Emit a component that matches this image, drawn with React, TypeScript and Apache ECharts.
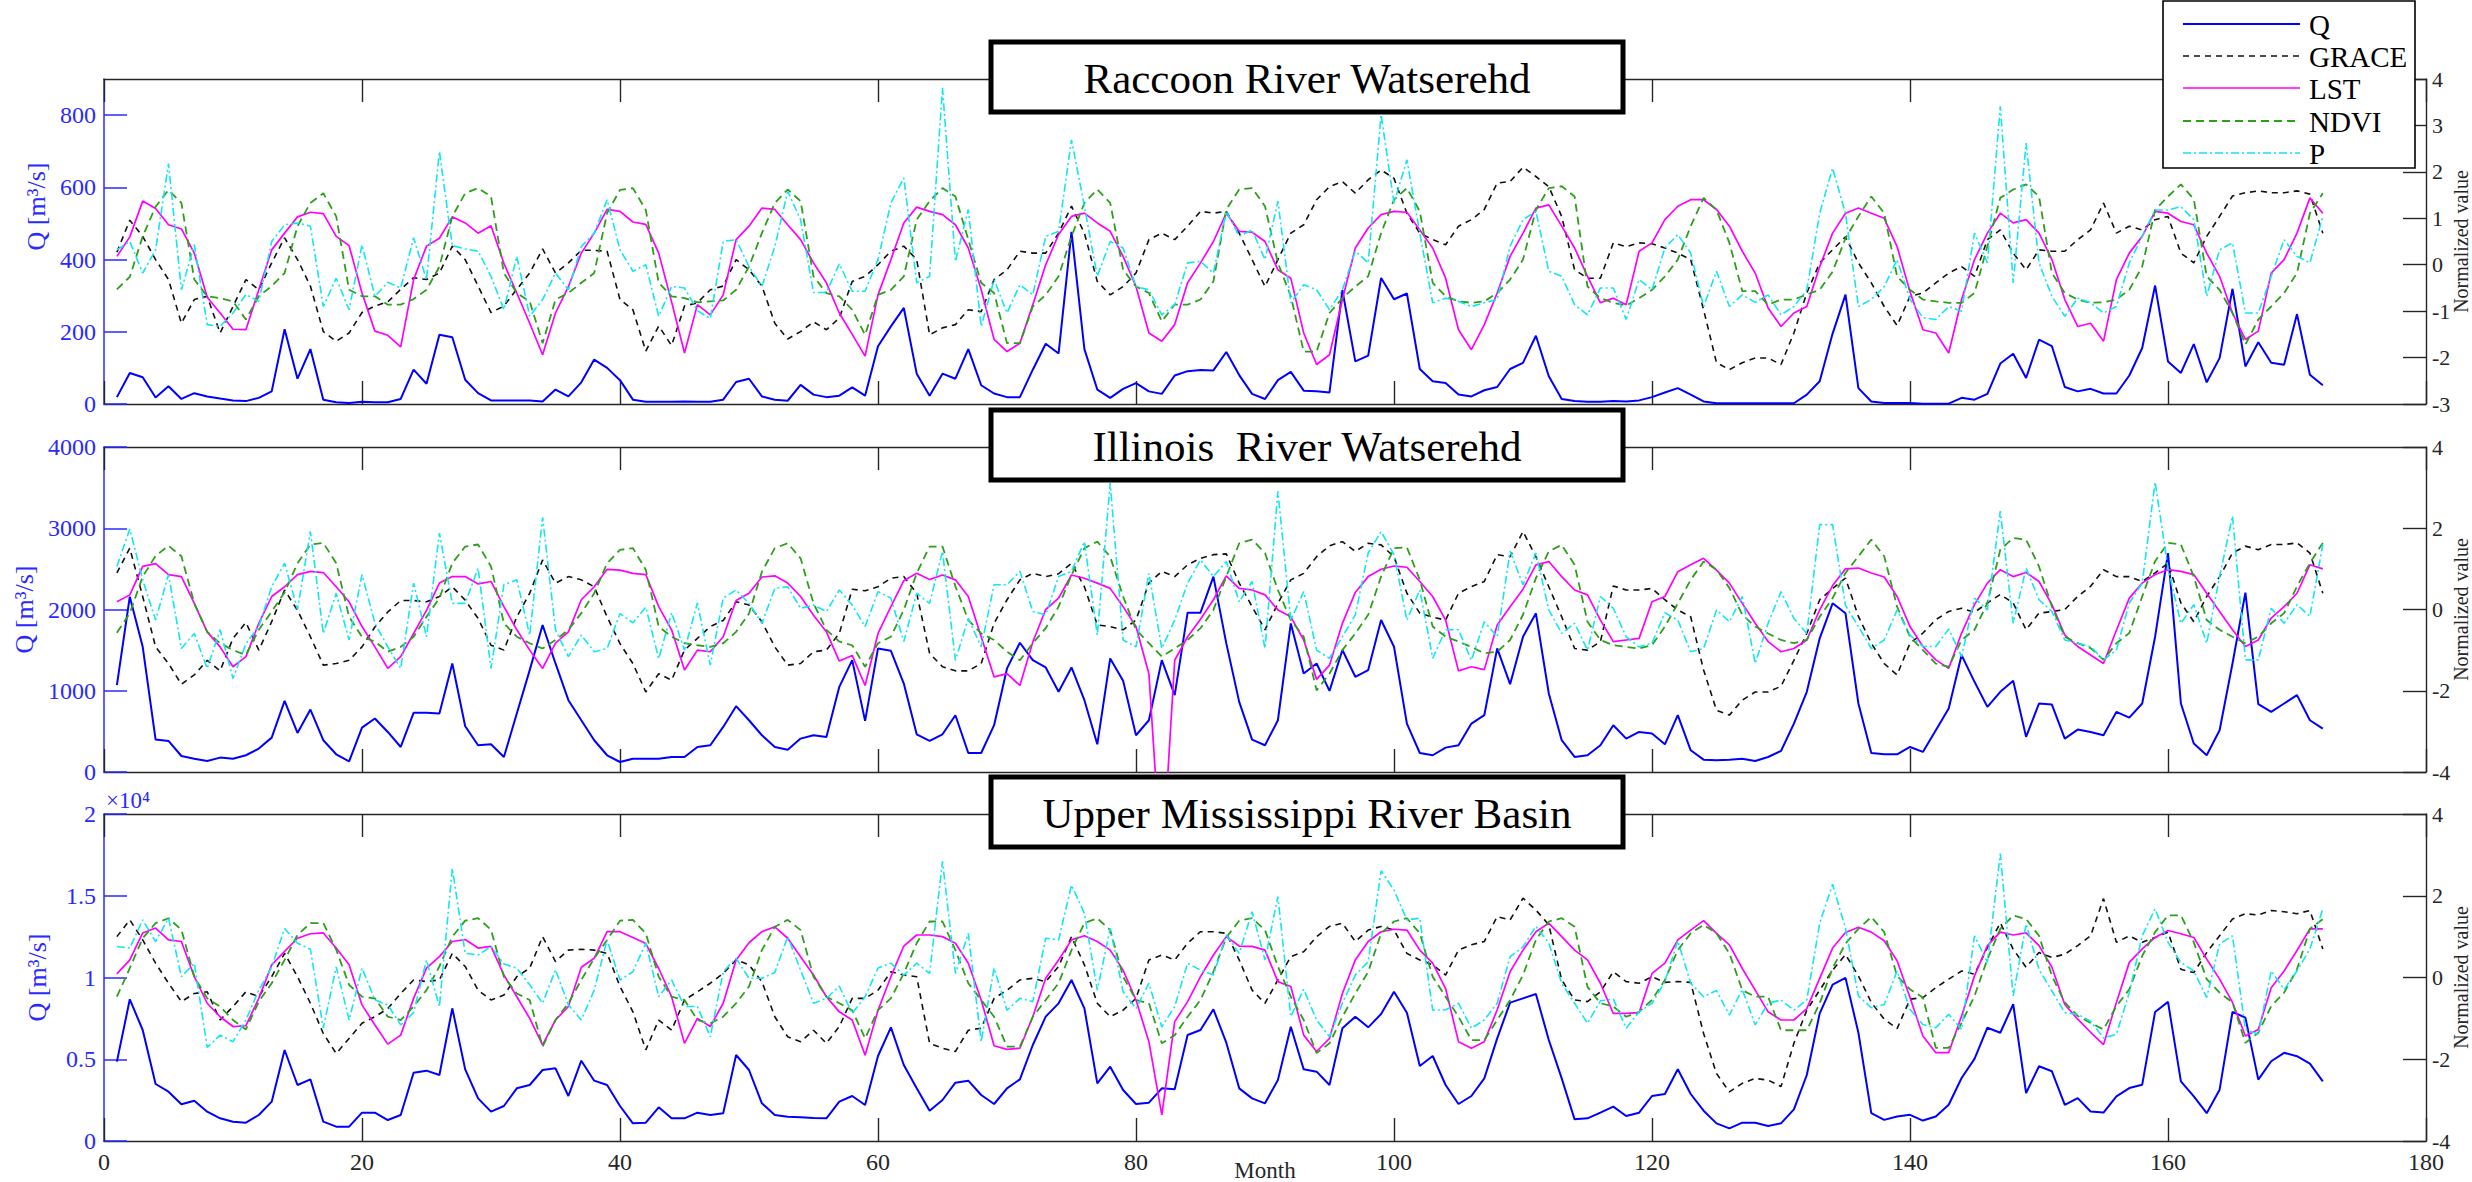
import React, { useEffect, useRef } from 'react';
import * as echarts from 'echarts';

// ---------- data (month index 1..172) ----------
const MONTHS: number[] = Array.from({ length: 172 }, (_, i) => i + 1);
const SERIES_NAMES = ['Q', 'GRACE', 'LST', 'NDVI', 'P'];
const TITLES = ['Raccoon River Watserehd', 'Illinois  River Watserehd', 'Upper Mississippi River Basin'];

// Raccoon River
const Q_RACCOON = [19, 86, 74, 18, 49, 14, 30, 21, 15, 10, 8, 17, 35, 207, 70, 152, 12, 5, 3, 6, 5, 5, 14, 95, 56, 192, 185, 67, 30, 10, 10, 10, 10, 7, 40, 21, 60, 123, 100, 66, 12, 6, 6, 6, 7,
  6, 6, 12, 61, 70, 21, 12, 9, 53, 26, 19, 23, 46, 23, 160, 215, 266, 84, 23, 84, 70, 152, 52, 29, 19, 19, 95, 167, 140, 477, 152, 40, 17, 42, 58, 35, 28, 79, 91, 94, 93, 144, 80, 28, 14,
  66, 89, 37, 35, 32, 315, 118, 134, 349, 290, 306, 97, 63, 58, 26, 21, 38, 47, 97, 114, 189, 77, 14, 8, 6, 6, 8, 7, 10, 19, 32, 44, 26, 7, 2, 2, 2, 2, 2, 2, 2, 26, 63, 195, 303,
  44, 7, 3, 3, 3, 1, 1, 1, 17, 12, 28, 112, 139, 72, 178, 160, 47, 35, 42, 29, 29, 79, 155, 328, 118, 86, 166, 60, 127, 319, 104, 171, 114, 109, 249, 81, 52];
const GRACE_RACCOON = [0.27, 0.96, 0.61, 0.11, -0.32, -1.26, -0.75, -0.68, -1.47, -0.90, -0.32, -0.54, 0.04, 0.58, 0.11, -0.46, -1.44, -1.65, -1.47, -1.03, -0.89, -0.80, -0.53, -0.28, -0.32, -0.18, 0.40, 0.11, -0.46, -1.03, -0.89, -0.53, -0.18, 0.34, -0.18, 0.04, 0.31, 0.31, 0.29, -0.75, -0.97, -1.86, -1.32, -1.74, -0.89,
  -0.82, -0.54, -0.46, 0.11, -0.11, -0.46, -1.26, -1.60, -1.44, -1.23, -1.40, -1.15, -0.36, -0.25, 0.0, 0.29, 0.40, 0.11, -1.51, -1.36, -1.29, -0.97, -1.01, -0.32, -0.11, 0.29, 0.25, 0.25, 0.68, 1.26, 0.68, -0.36, -0.65, -0.47, -0.18, 0.54, 0.68, 0.54, 0.83, 1.15, 1.11, 1.15, 0.68, 0.11, -0.47,
  0.11, 0.68, 0.86, 1.40, 1.68, 1.79, 1.54, 1.83, 2.04, 1.86, 1.11, 0.68, 0.54, 0.43, 0.83, 0.97, 1.19, 1.76, 1.79, 2.10, 1.90, 1.68, 1.04, -0.11, -0.29, -0.29, 0.47, 0.39, 0.47, 0.45, 0.36, 0.25, 0.11, -0.97, -2.11, -2.26, -2.11, -2.01, -2.01, -2.15, -1.47, -0.61, 0.04, 0.32, 0.60,
  0.04, -0.39, -0.90, -1.31, -0.68, -0.61, -0.39, -0.18, -0.04, -0.25, 0.54, 0.75, 0.25, -0.11, 0.32, 0.29, 0.29, 0.54, 0.75, 1.33, 0.68, 0.83, 0.75, 0.97, 1.04, 0.25, 0.04, 0.61, 1.04, 1.48, 1.55, 1.59, 1.55, 1.55, 1.59, 1.52, 0.68];
const LST_RACCOON = [0.18, 0.60, 1.37, 1.21, 0.86, 0.77, 0.25, -0.70, -1.04, -1.39, -1.40, -0.54, 0.32, 0.68, 1.03, 1.13, 1.10, 0.61, 0.41, -0.61, -1.43, -1.52, -1.77, -0.32, 0.40, 0.57, 1.03, 0.90, 0.68, 0.84, 0.03, -0.61, -1.26, -1.94, -1.04, -0.47, 0.25, 0.68, 1.19, 1.15, 0.92, 0.87, 0.25, -0.80, -1.90,
  -0.86, -1.08, -0.65, 0.54, 0.83, 1.22, 1.19, 0.86, 0.54, 0.04, -0.39, -1.04, -1.50, -1.97, -0.65, 0.11, 0.90, 1.24, 1.15, 1.08, 0.86, 0.36, -0.54, -1.61, -1.87, -1.69, -0.86, 0.0, 0.65, 1.04, 1.11, 0.90, 0.72, 0.18, -0.47, -1.47, -1.65, -1.29, -0.39, 0.04, 0.50, 1.11, 0.72, 0.70, 0.50,
  -0.11, -0.29, -1.47, -2.15, -1.94, -0.75, 0.36, 0.79, 1.08, 1.15, 1.13, 0.75, 0.36, -0.29, -1.40, -1.83, -1.29, -0.61, 0.18, 0.68, 1.22, 1.29, 0.83, 0.36, -0.25, -0.82, -0.72, -0.86, 0.29, 0.47, 0.97, 1.26, 1.40, 1.40, 1.19, 0.83, 0.29, -0.18, -0.93, -1.33, -1.04, -0.90, -0.04, 0.68, 1.11,
  1.22, 1.11, 1.00, 0.39, -0.58, -1.40, -1.47, -1.90, -0.75, 0.11, 0.68, 1.11, 0.90, 0.97, 0.68, 0.11, -0.75, -1.33, -1.26, -1.65, -0.32, 0.25, 0.61, 1.15, 1.11, 0.93, 0.86, 0.25, -0.25, -1.04, -1.61, -1.43, -0.18, 0.11, 0.68, 1.44, 1.11];
const NDVI_RACCOON = [-0.53, -0.26, 0.61, 1.25, 1.61, 1.33, -0.32, -0.68, -0.72, -0.79, -1.18, -0.68, -0.46, -0.18, 0.83, 1.33, 1.54, 1.04, -0.54, -0.68, -0.68, -0.86, -0.86, -0.74, -0.54, -0.04, 1.04, 1.54, 1.65, 1.47, -0.18, -0.61, -0.79, -1.69, -0.75, -0.61, -0.39, -0.18, 1.11, 1.61, 1.65, 1.18, -0.39, -0.68, -0.72,
  -0.81, -0.79, -0.77, -0.54, -0.04, 0.68, 1.33, 1.62, 1.37, -0.25, -0.61, -0.68, -0.97, -1.51, -0.65, -0.54, -0.25, 0.97, 1.37, 1.65, 1.47, 0.54, -0.39, -0.61, -1.69, -1.69, -0.90, -0.65, -0.25, 0.61, 1.33, 1.62, 1.33, -0.11, -0.47, -0.61, -1.22, -0.86, -0.86, -0.75, -0.36, 1.19, 1.62, 1.65, 1.26,
  0.04, -0.68, -1.87, -1.87, -1.04, -0.72, -0.47, -0.25, 0.68, 1.40, 1.65, 1.15, -0.39, -0.68, -0.79, -0.82, -0.79, -0.61, -0.32, 0.11, 1.18, 1.65, 1.69, 1.47, -0.47, -0.72, -0.82, -0.88, -0.72, -0.54, -0.25, 0.11, 0.83, 1.44, 1.18, 0.47, -0.57, -0.57, -0.86, -0.75, -0.75, -0.64, -0.54, -0.15, 0.57,
  1.04, 1.47, 1.11, -0.25, -0.54, -0.75, -0.79, -0.82, -0.82, -0.61, 0.40, 1.44, 1.62, 1.73, 1.47, -0.18, -0.61, -0.75, -0.82, -0.81, -0.75, -0.54, -0.04, 1.18, 1.47, 1.73, 1.41, -0.25, -0.54, -1.04, -1.72, -1.18, -0.90, -0.61, -0.18, 1.11, 1.54];
const P_RACCOON = [0.32, 0.50, -0.18, 0.32, 2.18, -0.54, 0.43, -1.29, -1.33, -1.04, -0.64, -0.79, 0.50, 0.86, 0.90, 0.83, -0.90, -0.29, -0.97, 0.43, -0.68, -0.38, -0.50, 0.58, -0.32, 2.44, 0.41, 0.34, 0.29, -0.25, -0.97, 0.18, -1.11, -0.75, -0.18, -0.54, 0.39, 0.68, 1.40, 0.32, -0.14, 0.00, -1.11, -0.47, -0.50,
  -0.99, -1.16, 0.50, 0.54, -0.04, -0.47, 0.39, 1.58, 0.97, -0.60, -0.60, 0.02, -0.57, -0.57, 0.11, 1.33, 1.87, -0.39, -0.25, 3.81, 0.07, 1.19, -1.33, -0.32, -1.04, -0.43, -0.65, 0.61, 0.72, 2.69, 1.26, -0.25, 0.50, 0.36, -0.47, -0.54, -1.08, -0.86, 0.04, 0.07, -0.18, 1.15, 0.61, 0.75, 0.11,
  1.37, -0.82, -0.43, -0.54, -0.97, -0.54, 0.29, 0.04, 3.23, 1.33, 2.26, 0.68, -0.82, -0.72, -0.79, -0.90, -0.82, -0.75, 0.40, 0.97, 1.15, -0.14, -0.25, -0.86, -1.08, -0.50, -0.50, -1.18, -0.32, -0.54, 0.36, 0.65, 0.25, -0.90, -0.14, -0.90, -0.65, -0.81, -0.65, -1.08, -0.90, -0.54, 1.11, 2.08, 1.10,
  -0.90, -0.75, -0.47, 0.11, -0.75, -1.14, -1.18, -0.90, -1.00, 0.68, 0.04, 3.41, -0.39, 2.62, 0.04, -0.68, -1.11, -0.72, -0.82, -1.04, -0.90, 0.04, 0.61, 1.18, 1.18, 1.25, 0.97, -0.68, 0.32, 0.47, -1.04, -1.04, -0.25, 0.54, 0.18, 0.04, 1.04];

// Illinois River
const Q_ILLINOIS = [1069, 2158, 1541, 399, 382, 197, 164, 136, 177, 164, 206, 288, 423, 876, 481, 769, 391, 218, 132, 547, 658, 493, 308, 728, 728, 720, 1336, 563, 329, 341, 185, 720, 1254, 1809, 1336, 884, 637, 391, 206, 123, 164, 164, 164, 185, 185,
  308, 329, 555, 810, 637, 452, 308, 275, 411, 452, 432, 1048, 1377, 629, 1521, 1492, 1089, 464, 382, 464, 699, 234, 234, 576, 1275, 1591, 1377, 1287, 987, 1287, 884, 341, 1398, 1122, 452, 637, 1377, 946, 1961, 1961, 2405, 1583, 863, 399, 329,
  637, 1829, 1213, 1336, 999, 1501, 1172, 1254, 1871, 1542, 596, 234, 206, 300, 329, 596, 699, 1521, 1081, 1665, 1953, 966, 391, 185, 206, 329, 576, 411, 493, 473, 341, 699, 267, 152, 144, 152, 164, 136, 185, 259, 596, 987, 1645, 2076, 1953,
  843, 234, 218, 218, 308, 247, 514, 781, 1439, 1110, 802, 987, 1122, 432, 843, 830, 411, 522, 493, 452, 740, 670, 843, 1665, 2693, 843, 350, 206, 514, 1336, 2208, 835, 740, 843, 946, 637, 534];
const GRACE_ILLINOIS = [0.90, 1.51, 0.32, -0.92, -1.33, -1.84, -1.61, -1.25, -1.51, -0.71, -0.32, -1.00, -0.30, 0.48, -0.02, -0.67, -1.37, -1.33, -1.25, -0.92, -0.43, -0.06, 0.22, 0.22, 0.19, 0.32, 0.56, 0.23, -0.22, -0.88, -1.00, -0.18, 0.40, 1.22, 0.65, 0.81, 0.73, 0.56, -0.18, -0.84, -1.33, -2.03, -1.58, -1.74, -1.00,
  -0.71, -0.42, -0.27, 0.19, 0.11, -0.30, -0.92, -1.37, -1.33, -1.04, -1.00, -0.59, 0.50, 0.46, 0.56, 0.77, 0.81, 0.40, -1.08, -1.41, -1.51, -1.51, -1.33, -0.34, 0.24, 0.73, 0.89, 0.81, 0.88, 1.14, 0.56, -0.38, -0.42, -0.50, -0.26, 0.65, 0.94, 0.81, 1.10, 1.26, 1.35, 1.37, 0.65, 0.07, -0.50,
  0.15, 0.73, 0.89, 1.30, 1.57, 1.67, 1.43, 1.63, 1.59, 1.30, 0.40, -0.09, -0.19, -0.26, 0.40, 0.56, 0.69, 1.35, 1.30, 1.92, 1.30, 0.56, -0.18, -0.96, -1.00, -0.79, 0.58, 0.48, 0.48, 0.52, 0.24, -0.01, -0.18, -1.49, -2.48, -2.60, -2.23, -2.03, -2.03, -1.89, -1.25, -0.59, 0.24, 0.52, 0.77,
  -0.17, -0.83, -1.33, -1.61, -0.83, -0.58, -0.25, -0.05, 0.03, -0.07, 0.16, 0.37, 0.16, -0.50, -0.09, -0.05, 0.00, 0.32, 0.57, 0.98, 0.81, 0.81, 0.69, 0.90, 1.14, 0.16, -0.30, 0.32, 0.81, 1.39, 1.56, 1.47, 1.60, 1.60, 1.64, 1.39, 0.40];
const LST_ILLINOIS = [0.19, 0.36, 1.06, 1.13, 0.86, 0.81, 0.15, -0.55, -0.92, -1.41, -1.16, -0.34, 0.32, 0.56, 0.86, 0.94, 0.91, 0.56, 0.19, -0.42, -0.92, -1.45, -1.16, -0.59, -0.02, 0.65, 0.81, 0.81, 0.63, 0.69, 0.07, -0.50, -1.00, -1.45, -0.83, -0.55, 0.24, 0.56, 0.99, 0.97, 0.89, 0.86, 0.07, -0.50, -1.49,
  -1.00, -1.04, -0.67, 0.22, 0.40, 0.80, 0.83, 0.65, 0.32, -0.14, -0.55, -1.27, -1.13, -1.87, -0.59, 0.07, 0.71, 0.89, 0.74, 0.85, 0.73, 0.32, -0.67, -1.66, -1.58, -1.87, -0.80, 0.00, 0.28, 0.85, 0.77, 0.65, 0.52, 0.07, -0.42, -1.58, -6.5, -1.25, -0.67, -0.24, 0.24, 0.83, 0.52, 0.48, 0.36,
  -0.01, -0.18, -0.75, -1.72, -1.37, -0.34, 0.42, 0.81, 0.99, 1.07, 1.04, 0.69, 0.32, -0.26, -1.51, -1.41, -1.48, -0.38, 0.07, 0.50, 1.10, 1.18, 0.81, 0.48, 0.36, -0.26, -0.79, -0.75, -0.71, 0.19, 0.32, 0.93, 1.10, 1.26, 0.97, 0.65, 0.15, -0.34, -0.79, -1.04, -0.96, -0.75, -0.01, 0.59, 1.00,
  1.02, 0.90, 0.80, 0.32, -0.42, -0.91, -1.24, -1.45, -0.58, 0.12, 0.65, 0.98, 0.81, 0.91, 0.69, 0.12, -0.63, -0.91, -1.12, -1.33, -0.51, 0.28, 0.65, 0.86, 0.98, 0.94, 0.86, 0.40, -0.05, -0.50, -0.91, -0.75, -0.21, 0.07, 0.40, 1.10, 1.00];
const NDVI_ILLINOIS = [-0.57, -0.09, 0.81, 1.32, 1.57, 1.31, 0.15, -0.55, -0.83, -1.00, -1.12, -0.50, -0.05, 0.42, 1.14, 1.60, 1.64, 1.14, -0.18, -0.67, -0.79, -1.04, -0.92, -0.67, -0.18, 0.28, 1.14, 1.55, 1.60, 1.06, -0.34, -0.67, -0.83, -0.96, -0.75, -0.50, -0.09, 0.40, 1.14, 1.47, 1.51, 0.98, -0.42, -0.67, -0.83,
  -0.88, -0.92, -0.83, -0.55, -0.10, 0.93, 1.51, 1.63, 1.26, 0.15, -0.50, -0.79, -0.88, -1.41, -0.83, -0.67, -0.01, 0.89, 1.55, 1.55, 0.57, -0.26, -0.59, -0.75, -1.04, -1.25, -0.83, -0.46, 0.07, 0.85, 1.51, 1.67, 1.30, 0.32, -0.50, -0.83, -1.16, -0.96, -0.75, -0.46, -0.01, 0.81, 1.63, 1.72, 1.39,
  0.48, -0.26, -0.67, -1.99, -1.58, -1.00, -0.59, -0.13, 0.81, 1.51, 1.53, 0.73, -0.42, -0.67, -0.79, -0.92, -1.08, -1.04, -0.75, -0.13, 0.77, 1.43, 1.59, 1.10, -0.30, -0.75, -0.88, -0.92, -0.96, -0.88, -0.42, 0.15, 0.73, 1.18, 0.98, 0.53, -0.13, -0.42, -0.59, -0.75, -0.83, -0.75, -0.18, 0.28, 0.90,
  1.31, 1.72, 1.31, 0.07, -0.67, -1.00, -1.33, -1.41, -0.75, -0.50, 0.16, 1.47, 1.76, 1.72, 1.06, 0.07, -0.67, -0.83, -0.95, -1.24, -0.83, -0.58, 0.32, 1.19, 1.64, 1.60, 0.81, -0.26, -0.50, -0.67, -0.83, -0.67, -0.34, -0.09, 0.57, 1.14, 1.64];
const P_ILLINOIS = [1.06, 1.98, 0.73, -0.26, 0.86, -0.96, -0.59, -1.45, -0.50, -1.70, -0.84, -0.42, 0.56, 1.14, 0.00, 1.92, -0.59, 0.40, -0.75, 0.86, -0.34, -0.92, -1.45, 0.65, -0.67, 1.88, 0.15, 0.15, 1.02, -1.45, 0.61, 0.73, -0.63, 2.27, -0.50, -1.16, -0.63, -1.04, -0.96, -0.10, -0.33, 0.06, -1.21, -0.08, -1.00,
  0.16, -1.37, 0.28, 0.48, 0.15, -0.34, 0.52, 0.56, 0.03, 0.11, -0.05, 0.48, 0.11, -0.42, 0.44, 0.28, -0.79, 0.40, 0.15, 1.43, -1.25, -0.22, -0.92, 0.61, 0.61, 0.94, -0.05, -0.13, 0.81, 0.94, 1.67, -0.63, 3.11, -0.75, -0.92, 0.89, -0.96, -0.26, 0.65, 1.22, 0.81, 1.18, 0.19, 0.69, -0.96,
  2.91, -0.26, 0.44, -1.00, -1.20, -0.67, -0.13, 1.39, 1.92, 1.35, -0.26, 0.48, -1.20, -0.50, -0.50, -1.25, -0.30, -0.67, 1.43, 0.61, 1.39, -0.01, -0.59, -0.34, -1.00, 0.32, 0.03, -0.67, -0.92, -0.83, -0.08, -0.26, -1.04, -0.96, -0.01, -0.30, 0.32, -1.33, -0.34, 0.44, -0.22, -0.59, 2.09, 2.09, 0.10,
  -0.42, -0.96, -0.75, -0.01, -0.63, -0.91, -0.91, -0.48, -1.16, 0.28, -0.01, 2.42, -0.34, 1.02, 0.24, -0.05, -0.75, -0.83, -0.91, -1.24, -1.00, 0.16, 0.65, 3.14, 1.02, -0.34, 0.12, -0.83, 0.81, 2.30, -1.24, -1.24, 0.03, -0.34, 0.12, -0.17, 1.60];

// Upper Mississippi River Basin
const Q_UMRB = [4852, 8665, 6789, 3486, 3017, 2243, 2467, 1794, 1386, 1182, 1121, 1590, 2406, 5565, 3425, 3772, 1182, 877, 877, 1733, 1733, 1284, 1590, 4179, 4302, 4037, 8115, 4383, 2609, 1794, 2141, 3221, 3425, 4342, 4444, 2752, 4913, 3690, 3425, 2141, 1080, 1121, 2059, 1386, 1386,
  1733, 1590, 1692, 5260, 4342, 2304, 1590, 1488, 1447, 1406, 1386, 2406, 2752, 2202, 5199, 6952, 4648, 3221, 1855, 2507, 3568, 3690, 2813, 2263, 3221, 3772, 5871, 7604, 8420, 9847, 8115, 3527, 4546, 3119, 2263, 2345, 3221, 3160, 6483, 6789, 8053, 6014, 3221, 2609, 2304,
  3731, 6993, 4383, 4240, 3425, 6891, 7604, 6952, 7767, 9134, 7849, 4587, 5199, 3425, 2263, 2752, 3833, 6279, 8461, 8726, 8991, 6177, 3833, 1325, 1386, 1733, 2100, 1529, 1733, 2752, 2874, 4383, 2874, 1855, 1080, 775, 1121, 1121, 917, 1080, 1937, 4037, 7808, 9567, 9976,
  6622, 1702, 1292, 1497, 1600, 1251, 1497, 2214, 3854, 5023, 6929, 6622, 8365, 2932, 4572, 4264, 2214, 2624, 1804, 1743, 2727, 3239, 3444, 7893, 8508, 3649, 2727, 1702, 3137, 7893, 7544, 3752, 4879, 5392, 5187, 4736, 3649];
const GRACE_UMRB = [1.00, 1.41, 0.92, 0.35, -0.14, -0.59, -0.39, -0.35, -1.04, -0.71, -0.35, -0.47, 0.02, 0.59, 0.02, -0.63, -1.37, -1.86, -1.49, -1.12, -0.96, -0.76, -0.39, -0.06, -0.10, -0.06, 0.59, 0.27, -0.31, -0.55, -0.43, 0.02, 0.23, 1.00, 0.39, 0.67, 0.69, 0.67, 0.59, -0.22, -0.84, -1.77, -1.04, -1.29, -0.55,
  -0.35, -0.14, 0.10, 0.43, 0.31, -0.10, -0.96, -1.45, -1.57, -1.29, -1.61, -1.20, -0.51, -0.51, -0.31, 0.14, 0.06, 0.02, -1.61, -1.73, -1.81, -1.29, -1.24, -0.51, -0.31, -0.06, -0.02, -0.10, 0.27, 1.00, 0.31, -0.63, -0.96, -0.80, -0.51, 0.43, 0.55, 0.43, 0.84, 1.12, 1.12, 1.08, 0.43, -0.31, -0.63,
  -0.06, 0.51, 0.63, 1.00, 1.25, 1.33, 0.88, 1.16, 1.25, 1.16, 0.59, 0.43, 0.31, 0.06, 0.67, 0.80, 0.88, 1.49, 1.41, 1.94, 1.65, 1.29, -0.06, -0.55, -0.59, -0.35, 0.14, -0.10, -0.14, 0.02, -0.12, -0.10, -0.12, -1.37, -2.35, -2.80, -2.59, -2.47, -2.51, -2.67, -1.61, -0.80, -0.31, 0.18, 0.56,
  0.04, -0.61, -1.02, -1.25, -0.53, -0.49, -0.25, -0.04, 0.16, 0.08, 0.73, 1.34, 0.69, 0.25, 0.61, 0.49, 0.57, 0.78, 1.02, 1.93, 0.86, 1.02, 0.86, 0.98, 1.11, 0.20, 0.12, 0.61, 1.02, 1.43, 1.56, 1.53, 1.64, 1.61, 1.56, 1.64, 0.70];
const LST_UMRB = [0.09, 0.43, 1.09, 1.21, 0.92, 0.88, 0.02, -0.63, -0.96, -1.20, -1.18, -0.51, 0.31, 0.64, 0.96, 1.07, 1.09, 0.72, 0.31, -0.67, -1.16, -1.63, -1.41, -0.51, 0.23, 0.51, 0.88, 0.93, 0.72, 0.76, 0.06, -0.47, -1.00, -1.65, -1.04, -0.71, 0.25, 0.47, 1.12, 1.12, 0.98, 0.83, 0.22, -0.47, -1.61,
  -1.00, -1.20, -0.63, 0.43, 0.85, 1.12, 1.24, 0.96, 0.51, 0.06, -0.47, -0.84, -1.04, -1.90, -0.80, 0.02, 0.77, 1.04, 1.04, 1.00, 0.84, 0.35, -0.55, -1.67, -1.76, -1.73, -0.96, -0.02, 0.43, 0.92, 1.02, 0.88, 0.67, 0.18, -0.55, -1.57, -3.36, -1.08, -0.59, 0.02, 0.55, 1.00, 0.77, 0.76, 0.67,
  -0.10, -0.22, -1.41, -1.81, -1.49, -0.39, 0.43, 0.88, 1.12, 1.18, 1.16, 0.67, 0.35, -0.27, -1.57, -1.73, -1.57, -0.79, 0.14, 0.67, 1.12, 1.33, 1.00, 0.67, 0.43, -0.14, -0.88, -0.88, -0.86, 0.10, 0.35, 0.92, 1.16, 1.39, 1.08, 0.80, 0.22, -0.31, -0.84, -1.04, -1.04, -0.76, -0.02, 0.72, 1.10,
  1.23, 1.11, 0.90, 0.41, -0.49, -1.43, -1.84, -1.84, -0.94, 0.04, 0.78, 1.11, 1.04, 1.09, 0.78, 0.25, -0.66, -1.02, -1.34, -1.64, -0.61, 0.37, 0.70, 0.98, 1.15, 1.07, 0.98, 0.45, -0.04, -0.61, -1.43, -1.27, -0.25, 0.16, 0.66, 1.19, 1.19];
const NDVI_UMRB = [-0.47, 0.23, 0.96, 1.33, 1.45, 1.17, 0.02, -0.51, -0.71, -1.04, -1.27, -0.59, -0.14, 0.43, 1.04, 1.33, 1.33, 0.68, -0.18, -0.47, -0.51, -0.96, -1.04, -0.71, -0.31, 0.27, 1.00, 1.39, 1.45, 1.17, 0.02, -0.39, -0.55, -1.69, -1.04, -0.63, -0.06, 0.47, 0.92, 1.39, 1.41, 1.08, 0.02, -0.47, -0.55,
  -1.04, -1.12, -0.96, -0.63, -0.22, 0.67, 1.24, 1.41, 1.16, 0.02, -0.47, -0.63, -0.80, -1.49, -0.80, -0.51, 0.10, 0.84, 1.37, 1.37, 0.67, -0.14, -0.55, -0.96, -1.69, -1.69, -0.96, -0.55, -0.14, 0.67, 1.33, 1.45, 1.16, 0.02, -0.55, -0.63, -1.61, -1.41, -0.96, -0.55, 0.14, 0.98, 1.39, 1.45, 1.16,
  0.27, -0.47, -1.04, -1.85, -1.61, -0.96, -0.39, 0.14, 1.08, 1.37, 1.45, 1.08, 0.02, -0.47, -0.96, -1.53, -1.53, -1.04, -0.55, 0.06, 0.92, 1.37, 1.45, 1.24, -0.23, -0.63, -0.71, -0.96, -0.84, -0.55, -0.06, 0.67, 1.08, 1.29, 1.08, 0.59, -0.31, -0.47, -0.47, -1.29, -1.29, -1.29, -0.63, 0.23, 0.83,
  1.19, 1.48, 1.11, 0.04, -0.29, -0.49, -1.72, -1.72, -1.11, -0.45, 0.45, 1.19, 1.52, 1.43, 1.02, 0.04, -0.61, -0.94, -1.11, -1.27, -0.70, -0.29, 0.53, 1.11, 1.52, 1.52, 0.86, -0.04, -0.37, -0.61, -1.60, -1.35, -0.70, -0.37, 0.20, 1.19, 1.43];
const P_UMRB = [0.76, 0.72, 1.41, 0.88, 1.45, 0.02, 0.35, -1.71, -1.41, -1.57, -1.04, -0.31, 0.26, 1.20, 0.84, 0.69, -1.24, 0.26, -1.04, 0.23, -0.55, -0.67, -1.16, -0.86, 0.43, -0.71, 2.67, 0.59, 0.55, 0.76, 0.33, 0.23, -0.18, -0.63, 0.19, -0.67, -1.04, -0.31, 0.92, -0.06, 0.14, 0.84, -0.47, -0.06, -0.71,
  -0.71, -1.45, 0.14, 0.47, -0.02, -0.02, 0.12, 1.00, 0.18, -0.63, -0.51, -0.21, -0.88, -0.47, 0.23, 0.35, 0.06, 0.35, 0.10, 2.84, 0.10, 1.08, -1.57, 0.23, -0.80, -0.51, -0.59, 0.96, 0.92, 2.26, 1.57, -0.31, 1.20, -0.35, -0.76, -0.14, -1.21, -0.71, 0.35, 0.18, 0.06, 1.04, 0.59, 1.61, 0.43,
  1.98, -0.96, -0.29, -1.04, -1.45, -0.63, 0.06, 0.39, 2.61, 2.14, 1.41, 1.45, -0.80, -0.79, -0.63, -1.24, -1.04, -0.63, 0.51, 0.75, 1.25, 0.84, -0.14, -0.63, -1.12, -0.57, -0.53, -1.24, -0.84, -0.63, -0.10, 0.90, -0.14, -0.47, -0.32, -0.92, -0.29, -1.16, -0.63, -0.55, -0.80, -0.55, 1.33, 2.28, 1.20,
  -0.45, -0.74, -0.66, 0.16, -0.78, -1.15, -1.23, -0.90, -1.27, 1.02, 0.37, 3.03, -0.45, 1.31, 0.20, -0.33, -0.86, -0.90, -1.07, -1.48, -1.39, -0.37, 1.02, 1.68, 0.86, 0.37, 0.16, -0.49, 0.82, 1.02, -1.27, -1.39, 0.16, -0.29, 0.16, 0.70, 1.68];

// axis settings per panel
const Q_MAX = [900, 4000, 20000];
const Q_INTERVAL = [200, 1000, 5000];
const NORM_MIN = [-3, -4, -4];
const NORM_INTERVAL = [1, 2, 2];

// ---------- styling ----------
const FONT = 'Liberation Serif, Times New Roman, serif';
const BLUE = '#0000ff';
const AXIS_BLUE = '#2a2aff';
const DARK = '#262626';
const STYLES: Record<string, { color: string; width: number; dash?: number[] }> = {
  Q: { color: BLUE, width: 2 },
  GRACE: { color: '#111111', width: 1.6, dash: [6, 5] },
  LST: { color: '#ff00ff', width: 1.7 },
  NDVI: { color: '#2f9e1c', width: 1.8, dash: [8, 5] },
  P: { color: '#12e6f0', width: 1.6, dash: [8, 3, 2, 3] },
};

const W = 2472;
const GRID_LEFT = 104;
const GRID_RIGHT = 46;
const GRID_TOPS = [79, 447, 814];
const GRID_HEIGHTS = [325, 325, 327];
const BOX_X = 991;
const BOX_W = 632;
const BOX_H = 70;
const LEGEND_BOX = { x: 2163, y: 1, w: 252, h: 167 };
const LEGEND_ROWS = [24, 56, 88, 121, 153];
const NAME_SHIFT = [70, 0, 0];

function pairs(arr: number[]) {
  return arr.map((v, i) => [MONTHS[i], v]);
}

function buildOption() {
  const panels = [
    { Q: Q_RACCOON, GRACE: GRACE_RACCOON, LST: LST_RACCOON, NDVI: NDVI_RACCOON, P: P_RACCOON },
    { Q: Q_ILLINOIS, GRACE: GRACE_ILLINOIS, LST: LST_ILLINOIS, NDVI: NDVI_ILLINOIS, P: P_ILLINOIS },
    { Q: Q_UMRB, GRACE: GRACE_UMRB, LST: LST_UMRB, NDVI: NDVI_UMRB, P: P_UMRB },
  ];
  const grid: any[] = [];
  const xAxis: any[] = [];
  const yAxis: any[] = [];
  const series: any[] = [];
  const graphic: any[] = [];
  const tickStyle = { color: DARK, width: 1.4 };
  const rightAxisX = W - GRID_RIGHT;

  panels.forEach((p: any, i) => {
    grid.push({ left: GRID_LEFT, right: GRID_RIGHT, top: GRID_TOPS[i], height: GRID_HEIGHTS[i], containLabel: false });
    xAxis.push({
      gridIndex: i, type: 'value', min: 0, max: 180, interval: 20, position: 'bottom',
      axisLine: { show: true, onZero: false, lineStyle: tickStyle },
      axisTick: { show: true, inside: true, length: 23, lineStyle: tickStyle },
      axisLabel: { show: i === 2, color: DARK, fontFamily: FONT, fontSize: 24, margin: 9 },
      splitLine: { show: false },
    });
    xAxis.push({
      gridIndex: i, type: 'value', min: 0, max: 180, interval: 20, position: 'top',
      axisLine: { show: true, onZero: false, lineStyle: tickStyle },
      axisTick: { show: true, inside: true, length: 23, lineStyle: tickStyle },
      axisLabel: { show: false }, splitLine: { show: false },
    });
    yAxis.push({
      gridIndex: i, type: 'value', min: 0, max: Q_MAX[i], interval: Q_INTERVAL[i], position: 'left',
      axisLine: { show: true, onZero: false, lineStyle: { color: AXIS_BLUE, width: 1.5 } },
      axisTick: { show: true, inside: true, length: 23, lineStyle: { color: AXIS_BLUE, width: 1.5 } },
      axisLabel: {
        color: AXIS_BLUE, fontFamily: FONT, fontSize: 24, margin: 8, showMaxLabel: i !== 0,
        formatter: (v: number) => (i === 2 ? String(v / 10000) : String(v)),
      },
      splitLine: { show: false },
      name: 'Q [m³/s]', nameLocation: 'middle', nameGap: 54, nameRotate: 90,
      nameTextStyle: { color: AXIS_BLUE, fontFamily: FONT, fontSize: 26, padding: [0, 0, 0, NAME_SHIFT[i]] },
    });
    yAxis.push({
      gridIndex: i, type: 'value', min: NORM_MIN[i], max: 4, interval: NORM_INTERVAL[i], position: 'right',
      axisLine: { show: true, onZero: false, lineStyle: tickStyle },
      axisTick: { show: true, inside: true, length: 23, lineStyle: tickStyle },
      axisLabel: { color: DARK, fontFamily: FONT, fontSize: 22, margin: 6 },
      splitLine: { show: false },
    });

    SERIES_NAMES.forEach((name) => {
      const st = STYLES[name];
      series.push({
        type: 'line', name, xAxisIndex: 2 * i, yAxisIndex: name === 'Q' ? 2 * i : 2 * i + 1,
        data: pairs(p[name]), symbol: 'none', showSymbol: false, silent: true, clip: true,
        itemStyle: { color: st.color },
        lineStyle: { color: st.color, width: st.width, type: st.dash ? st.dash : 'solid' },
      });
    });

    // right-axis title, squeezed against the page edge
    graphic.push({
      type: 'text', z: 90, x: rightAxisX + 25, y: GRID_TOPS[i] + GRID_HEIGHTS[i] / 2, rotation: Math.PI / 2,
      style: { text: 'Normalized value', fontFamily: FONT, fontSize: 20, lineHeight: 19, fill: DARK, align: 'center', verticalAlign: 'top' },
    });

    const boxY = GRID_TOPS[i] - 2 - BOX_H / 2;
    graphic.push({
      type: 'group', z: 100,
      children: [
        { type: 'rect', z: 100, shape: { x: BOX_X, y: boxY, width: BOX_W, height: BOX_H }, style: { fill: '#ffffff', stroke: '#000000', lineWidth: 5 } },
        { type: 'text', z: 101, x: BOX_X + BOX_W / 2, y: boxY + BOX_H / 2 + 1, style: { text: TITLES[i], fontFamily: FONT, fontSize: 43, fill: '#000000', align: 'center', verticalAlign: 'middle' } },
      ],
    });
  });

  // ×10^4 multiplier for the bottom panel
  graphic.push({ type: 'text', z: 100, x: GRID_LEFT + 2, y: GRID_TOPS[2] - 2, style: { text: '×10⁴', fontFamily: FONT, fontSize: 23, fill: AXIS_BLUE, align: 'left', verticalAlign: 'bottom' } });

  // x-axis title, between the 80 and 100 tick labels at the bottom edge
  graphic.push({ type: 'text', z: 90, x: (GRID_LEFT + rightAxisX) / 2, y: 1181, style: { text: 'Month', fontFamily: FONT, fontSize: 23, lineHeight: 21, fill: DARK, align: 'center', verticalAlign: 'bottom' } });

  // legend (box, line samples, labels)
  const legendChildren: any[] = [
    { type: 'rect', z: 110, shape: { x: LEGEND_BOX.x, y: LEGEND_BOX.y, width: LEGEND_BOX.w, height: LEGEND_BOX.h }, style: { fill: '#ffffff', stroke: '#000000', lineWidth: 1.6 } },
  ];
  SERIES_NAMES.forEach((name, k) => {
    const st = STYLES[name];
    legendChildren.push({
      type: 'line', z: 111, shape: { x1: LEGEND_BOX.x + 20, y1: LEGEND_ROWS[k], x2: LEGEND_BOX.x + 137, y2: LEGEND_ROWS[k] },
      style: { stroke: st.color, lineWidth: st.width, lineDash: st.dash ? st.dash : null },
    });
    legendChildren.push({
      type: 'text', z: 111, x: LEGEND_BOX.x + 146, y: LEGEND_ROWS[k] + 1,
      style: { text: name, fontFamily: FONT, fontSize: 29, lineHeight: 29, fill: '#000000', align: 'left', verticalAlign: 'middle' },
    });
  });
  graphic.push({ type: 'group', z: 110, children: legendChildren });

  return {
    animation: false,
    backgroundColor: '#ffffff',
    grid, xAxis, yAxis, series, graphic,
  };
}

export default function App() {
  const ref = useRef<HTMLDivElement>(null);
  useEffect(() => {
    if (!ref.current) return;
    const chart = echarts.init(ref.current, undefined, { renderer: 'svg' });
    chart.setOption(buildOption() as any);
    return () => chart.dispose();
  }, []);
  return <div ref={ref} style={{ position: 'absolute', left: 0, top: 0, width: 2472, height: 1182, background: '#fff' }} />;
}
